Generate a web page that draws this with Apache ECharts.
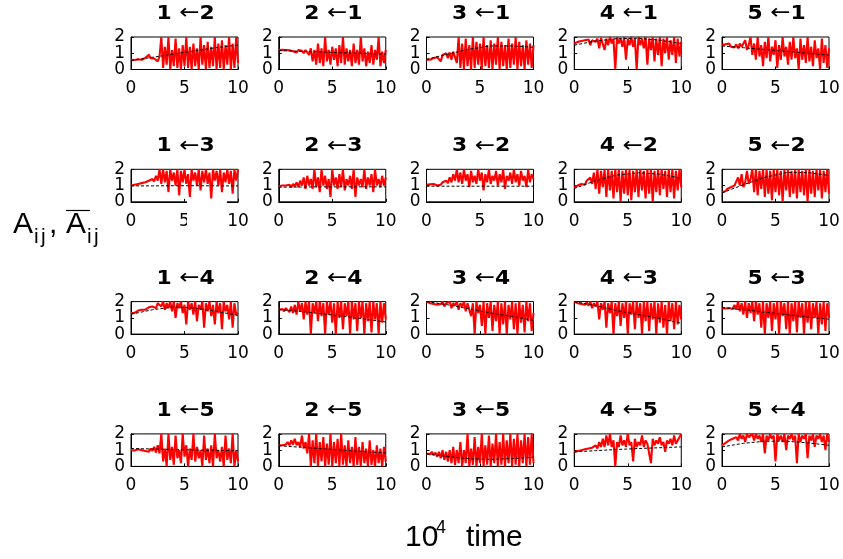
<!DOCTYPE html>
<html><head><meta charset="utf-8">
<script src="https://cdn.jsdelivr.net/npm/echarts@6/dist/echarts.min.js"></script>
<style>html,body{margin:0;padding:0;background:#fff}#c{width:843px;height:559px}</style>
</head><body><div id="c"></div>
<script>
// ---- data ----
const titles = [['1','2'],['2','1'],['3','1'],['4','1'],['5','1'],
                ['1','3'],['2','3'],['3','2'],['4','2'],['5','2'],
                ['1','4'],['2','4'],['3','4'],['4','3'],['5','3'],
                ['1','5'],['2','5'],['3','5'],['4','5'],['5','4']];
const xRange = [0, 10];
const yRange = [0, 2];
const xTickValues = [0, 5, 10];
const yTickValues = [0, 1, 2];
const yOuterLabels = [0, 2];
const yMiddleLabels = [1];
const trendTime = [0, 2, 4, 6, 8, 10];

const red_1_2 = [0.6,0.62,0.58,0.65,0.63,0.7,0.6,0.68,0.72,0.66,0.9,0.7,0.75,0.68,0.78,0.5,0.8,2.0,
 0.1,1.4,0.3,2.0,0.0,1.2,0.2,1.9,0.1,1.3,0.0,1.5,0.2,2.0,0.1,1.4,0.0,1.6,0.2,1.3,
 0.0,2.0,0.3,1.5,0.0,1.7,0.1,1.4,0.2,2.0,0.0,1.6,0.1,1.8,0.0,1.5,0.3,2.0,0.0,1.6,0.1,2.0,0.4];
const red_2_1 = [1.2,1.18,1.22,1.15,1.2,1.1,1.18,1.22,1.12,1.15,1.05,1.2,1.1,1.15,1.0,1.2,1.1,0.9,
 1.3,0.5,1.2,0.3,1.6,0.4,1.3,0.2,2.0,0.5,1.2,0.3,1.4,0.6,1.3,0.2,1.5,0.4,2.0,0.3,
 1.3,0.5,1.2,0.2,1.6,0.4,1.2,0.3,2.0,0.5,1.3,0.2,1.1,0.4,1.5,0.3,1.2,0.6,2.0,0.2,1.1,0.4,1.2];
const red_3_1 = [0.6,0.65,0.6,0.72,0.7,0.8,0.75,0.85,0.5,0.9,0.85,1.0,0.7,1.05,0.6,1.1,1.2,0.4,
 2.0,0.1,1.6,0.0,1.9,0.2,1.5,0.0,2.0,0.1,1.7,0.3,1.6,0.0,2.0,0.2,1.5,0.1,1.8,0.0,
 1.6,0.3,2.0,0.0,1.7,0.2,1.5,0.0,1.9,0.1,1.6,0.3,2.0,0.0,1.7,0.2,1.5,0.0,1.8,0.3,1.6,0.1,1.5];
const red_4_1 = [1.6,1.65,1.7,1.62,1.75,1.7,1.8,1.72,1.85,1.5,1.8,1.9,1.7,1.9,1.3,1.95,1.85,1.2,
 1.9,1.5,2.0,1.6,1.9,0.0,2.0,1.6,1.9,1.4,2.0,0.6,1.9,1.5,2.0,1.4,1.9,0.0,2.0,1.5,
 1.9,1.3,2.0,0.3,1.9,1.2,2.0,0.5,1.9,0.9,2.0,0.2,1.9,1.0,2.0,0.6,1.8,0.9,2.0,0.4,1.9,0.8,1.7];
const red_5_1 = [1.5,1.48,1.55,1.45,1.6,1.4,1.5,1.35,1.55,1.3,1.6,1.4,1.3,1.8,1.2,1.5,2.0,0.9,
 1.6,0.6,2.0,0.8,1.5,0.2,1.7,0.7,2.0,0.5,1.4,0.9,1.8,0.1,1.5,0.6,2.0,0.8,1.4,0.3,
 1.7,0.6,2.0,0.7,1.3,0.0,1.9,0.6,1.5,0.4,2.0,0.5,1.4,0.2,1.8,0.7,1.3,0.0,1.9,0.4,1.5,0.1,1.3];
const red_1_3 = [1.0,1.02,1.05,1.0,1.1,1.05,1.15,1.1,1.2,1.15,1.3,1.2,1.4,1.25,1.6,1.3,2.0,1.1,
 2.0,1.2,1.9,0.6,2.0,1.3,1.8,1.0,2.0,0.4,1.9,1.2,2.0,1.1,1.7,0.3,2.0,1.3,1.8,1.0,
 2.0,0.7,1.9,1.2,2.0,1.1,1.8,0.2,2.0,1.3,1.9,1.0,2.0,0.6,1.8,1.2,2.0,1.1,1.9,0.5,2.0,1.3,2.0];
const red_2_3 = [0.95,0.9,1.0,0.92,1.0,0.95,1.05,0.9,1.1,0.95,1.2,0.9,1.3,1.0,1.5,0.8,1.6,1.0,
 1.4,0.8,2.0,0.9,1.5,0.6,2.0,1.0,1.6,0.8,1.4,0.3,2.0,1.0,1.5,0.8,1.7,0.9,2.0,0.7,
 1.4,1.0,1.6,0.8,2.0,0.3,1.5,1.0,1.4,0.9,2.0,0.8,1.5,1.0,1.7,0.6,2.0,1.0,1.4,0.9,1.6,1.0,1.5];
const red_3_2 = [1.05,1.0,1.08,1.02,1.1,1.05,1.0,1.12,1.05,1.2,1.1,1.3,1.15,1.5,1.2,1.7,1.3,2.0,
 1.2,1.8,1.1,2.0,1.3,1.7,0.9,1.9,1.2,1.6,1.1,2.0,1.3,1.8,0.7,1.7,1.2,2.0,1.1,1.6,
 1.3,1.9,1.0,1.7,1.2,2.0,0.8,1.6,1.3,1.8,1.1,2.0,1.2,1.7,1.0,1.9,1.3,1.6,0.9,2.0,1.2,1.7,1.4];
const red_4_2 = [0.9,0.95,1.0,1.05,1.1,1.15,1.05,1.3,1.2,1.5,1.1,1.8,
 0.8,2.0,0.5,1.9,0.9,2.0,0.3,2.0,0.7,1.9,0.2,2.0,0.6,2.0,0.0,1.9,0.5,2.0,
 0.4,2.0,0.1,1.9,0.6,2.0,0.3,2.0,0.7,1.9,0.2,2.0,0.5,2.0,0.0,1.9,0.6,2.0,0.4,2.0,
 0.8,1.9,0.3,2.0,0.6,2.0,0.2,1.9,0.7,2.0,0.9];
const red_5_2 = [0.6,0.7,0.65,0.8,0.75,0.9,0.85,1.0,0.95,1.5,1.0,1.7,0.9,1.2,1.9,1.1,1.4,2.0,
 0.6,2.0,0.4,1.9,0.8,2.0,0.3,2.0,0.5,1.9,0.1,2.0,0.6,2.0,0.4,1.9,0.0,2.0,0.7,2.0,
 0.3,1.9,0.5,2.0,0.2,2.0,0.6,1.9,0.4,2.0,0.0,2.0,0.5,1.9,0.3,2.0,0.7,2.0,0.2,1.9,0.6,2.0,0.5];
const red_1_4 = [1.3,1.35,1.3,1.4,1.45,1.4,1.5,1.55,1.5,1.6,1.65,1.55,1.7,1.8,1.6,1.9,2.0,1.7,
 2.0,1.5,1.9,1.6,2.0,1.4,2.0,1.0,1.9,1.6,2.0,1.3,1.8,0.6,2.0,1.5,1.9,1.2,2.0,0.8,
 1.8,1.5,2.0,0.4,1.9,1.4,2.0,1.1,1.8,0.6,2.0,1.3,1.9,0.3,2.0,1.4,1.8,0.9,2.0,0.4,1.9,1.2,1.3];
const red_2_4 = [1.5,1.45,1.55,1.4,1.6,1.5,1.35,1.7,1.3,1.8,1.2,2.0,
 1.4,1.9,0.9,2.0,1.2,2.0,0.0,1.9,1.3,2.0,0.8,2.0,1.1,1.9,0.0,2.0,1.2,2.0,
 0.7,1.9,0.0,2.0,1.0,2.0,0.3,1.9,1.1,2.0,0.0,2.0,0.9,1.9,0.2,2.0,1.0,2.0,0.0,1.9,
 0.8,2.0,0.1,2.0,0.9,1.9,0.0,2.0,0.7,1.9,0.9];
const red_3_4 = [2.0,1.95,1.9,2.0,1.85,1.95,1.8,1.9,1.85,2.0,1.7,1.9,1.8,2.0,1.6,1.9,1.75,2.0,1.5,1.9,1.7,2.0,1.4,1.9,
 2.0,1.1,1.9,0.0,2.0,1.3,1.8,0.5,2.0,0.0,1.9,1.0,2.0,0.2,1.8,0.8,2.0,0.0,1.9,0.6,
 2.0,0.0,1.8,0.9,2.0,0.3,1.9,0.0,2.0,0.7,1.8,0.1,2.0,0.8,1.9,0.2,1.3];
const red_4_3 = [2.0,1.95,1.9,2.0,1.85,1.9,1.8,1.95,1.75,2.0,1.6,1.9,1.7,2.0,0.9,1.9,1.5,2.0,
 0.4,1.9,1.3,2.0,0.0,1.9,1.1,2.0,0.5,1.9,1.0,2.0,0.0,1.9,1.2,2.0,0.3,2.0,1.0,1.9,
 0.0,2.0,0.8,2.0,0.2,1.9,0.9,2.0,0.0,1.9,0.7,2.0,0.4,1.8,0.0,2.0,0.8,1.9,0.3,2.0,0.6,1.8,0.9];
const red_5_3 = [1.6,1.62,1.58,1.65,1.6,1.7,1.55,1.8,1.5,2.0,1.4,1.9,
 1.2,2.0,1.0,1.9,1.3,2.0,0.8,2.0,1.2,1.9,0.4,2.0,0.0,1.9,1.0,2.0,0.2,1.9,
 0.9,2.0,0.0,2.0,1.1,1.9,0.3,2.0,0.0,1.9,0.8,2.0,0.1,2.0,1.0,1.9,0.0,2.0,0.7,2.0,
 0.3,1.9,1.0,2.0,0.0,1.9,0.6,2.0,0.2,1.9,1.0];
const red_1_5 = [1.0,1.02,0.98,1.0,1.05,0.97,1.0,1.03,0.95,1.05,0.9,1.1,0.95,1.2,0.85,1.3,0.8,
 2.0,0.3,1.1,0.0,2.0,0.4,1.2,0.1,1.9,0.5,1.0,0.2,2.0,0.6,1.3,0.0,1.1,0.4,2.0,0.3,
 1.2,0.5,1.0,0.0,1.9,0.4,1.1,0.2,1.3,0.0,2.0,0.5,1.0,0.3,1.2,0.0,1.9,0.4,1.1,0.2,2.0,0.0,1.0,0.3];
const red_2_5 = [1.3,1.35,1.3,1.4,1.35,1.5,1.3,1.6,1.35,1.7,1.3,1.5,1.2,1.9,1.1,1.5,0.8,2.0,
 0.0,1.6,0.2,2.0,0.0,1.5,0.3,1.8,0.0,1.4,0.1,2.0,0.0,1.5,0.2,1.7,0.0,2.0,0.1,1.3,
 0.0,1.6,0.2,1.2,0.0,1.8,0.1,1.2,0.0,1.5,0.2,1.1,0.0,1.6,0.1,1.0,0.0,1.3,0.2,1.1,0.0,1.2,0.3];
const red_3_5 = [0.8,0.85,0.75,0.9,0.7,0.85,0.6,0.9,0.5,1.0,0.4,0.9,0.3,1.0,0.2,1.2,0.1,1.0,
 0.2,1.5,0.0,1.0,0.2,2.0,0.0,1.1,0.1,1.8,0.0,1.2,0.2,2.0,0.0,1.3,0.1,1.9,0.0,1.4,
 0.2,2.0,0.0,1.5,0.1,2.0,0.0,1.6,0.2,2.0,0.0,1.7,0.1,2.0,0.0,1.6,0.2,2.0,0.0,1.8,0.1,2.0,0.2];
const red_4_5 = [0.9,0.92,0.95,0.93,1.0,0.98,1.05,1.0,1.1,1.05,1.15,1.1,1.3,1.1,1.5,1.2,1.7,1.2,
 1.9,1.3,2.0,1.2,1.6,0.0,1.5,1.2,1.9,1.3,1.6,1.2,2.0,1.3,1.5,0.3,1.7,1.2,1.5,1.3,
 1.9,1.2,1.6,1.4,1.5,0.2,1.7,1.3,1.6,1.4,1.8,1.3,1.5,0.9,1.6,1.4,1.7,1.3,1.9,1.4,1.6,1.5,2.0];
const red_5_4 = [1.3,1.35,1.45,1.5,1.6,1.55,1.7,1.65,1.8,1.6,2.0,1.7,1.9,1.5,2.0,1.8,1.9,2.0,
 1.6,2.0,1.7,1.9,1.5,2.0,0.8,1.9,1.6,2.0,1.7,1.9,0.3,2.0,1.6,1.9,1.5,2.0,1.0,1.9,
 1.7,2.0,1.6,1.9,0.2,2.0,1.5,1.9,1.7,2.0,0.5,1.9,1.6,2.0,1.2,1.9,1.7,2.0,1.5,1.9,1.0,2.0,1.5];

const trend_1_2 = [0.55,0.75,0.95,1.15,1.35,1.5];
const trend_2_1 = [1.16,1.12,1.08,1.03,0.99,0.95];
const trend_3_1 = [0.63,0.95,1.25,1.45,1.45,1.37];
const trend_4_1 = [1.5,1.75,1.9,1.92,1.8,1.6];
const trend_5_1 = [1.45,1.34,1.23,1.12,1.0,0.89];
const trend_1_3 = [0.98,0.98,0.99,0.99,0.98,0.98];
const trend_2_3 = [0.9,0.91,0.92,0.92,0.92,0.92];
const trend_3_2 = [0.96,0.96,0.96,0.96,0.96,0.96];
const trend_4_2 = [0.82,1.3,1.65,1.78,1.7,1.45];
const trend_5_2 = [0.55,1.05,1.5,1.8,1.8,1.62];
const trend_1_4 = [1.22,1.5,1.67,1.6,1.4,1.15];
const trend_2_4 = [1.5,1.4,1.25,1.1,0.92,0.75];
const trend_3_4 = [2.0,1.8,1.55,1.3,1.08,0.85];
const trend_4_3 = [2.0,1.75,1.45,1.2,0.95,0.67];
const trend_5_3 = [1.63,1.5,1.35,1.2,1.05,0.92];
const trend_1_5 = [1.1,1.07,1.04,1.01,0.99,0.97];
const trend_2_5 = [1.27,1.18,1.09,1.0,0.91,0.83];
const trend_3_5 = [0.77,0.6,0.47,0.43,0.48,0.57];
const trend_4_5 = [0.89,0.97,1.04,1.1,1.15,1.2];
const trend_5_4 = [1.2,1.42,1.55,1.55,1.45,1.3];

const redSeries = [red_1_2,red_2_1,red_3_1,red_4_1,red_5_1,
                   red_1_3,red_2_3,red_3_2,red_4_2,red_5_2,
                   red_1_4,red_2_4,red_3_4,red_4_3,red_5_3,
                   red_1_5,red_2_5,red_3_5,red_4_5,red_5_4];
const trendSeries = [trend_1_2,trend_2_1,trend_3_1,trend_4_1,trend_5_1,
                     trend_1_3,trend_2_3,trend_3_2,trend_4_2,trend_5_2,
                     trend_1_4,trend_2_4,trend_3_4,trend_4_3,trend_5_3,
                     trend_1_5,trend_2_5,trend_3_5,trend_4_5,trend_5_4];

// ---- layout ----
const FONT = "'Liberation Sans', Arial, Helvetica, sans-serif";
const TFONT = "'DejaVu Sans', 'Liberation Sans', sans-serif";
const G = {left0:131, top0:37, dx:147.75, dy:132.3, w:107, h:32.5};
const N = 20;

const grids=[], xAxes=[], yAxes=[], series=[], graphics=[];
function tickLabel(margin, values){
  return {show:true, color:'#000', fontSize:17, fontFamily:TFONT, margin:margin,
          hideOverlap:false, showMinLabel:true, showMaxLabel:true, customValues:values};
}
for (let k=0;k<N;k++){
  const r=Math.floor(k/5), c=k%5;
  const left=G.left0+c*G.dx, top=G.top0+r*G.dy;
  grids.push({left:left, top:top, width:G.w, height:G.h, show:true, borderColor:'#000', borderWidth:1, backgroundColor:'transparent', outerBoundsMode:'none'});
  xAxes.push({gridIndex:k, type:'value', min:xRange[0], max:xRange[1], interval:5,
    axisLine:{show:true, onZero:false, lineStyle:{color:'#000', width:1}},
    axisTick:{show:true, inside:true, length:3, lineStyle:{color:'#000'}, customValues:xTickValues},
    axisLabel:tickLabel(11, xTickValues),
    splitLine:{show:false}});
  yAxes[k] = {gridIndex:k, type:'value', min:yRange[0], max:yRange[1], interval:1, position:'left',
    axisLine:{show:true, onZero:false, lineStyle:{color:'#000', width:1}},
    axisTick:{show:true, inside:true, length:3, lineStyle:{color:'#000'}, customValues:yTickValues},
    axisLabel:tickLabel(6, yOuterLabels),
    splitLine:{show:false}};
  // companion axis on the same grid that carries the middle tick label
  yAxes[N+k] = {gridIndex:k, type:'value', min:yRange[0], max:yRange[1], interval:1, position:'left', offset:0,
    axisLine:{show:false}, axisTick:{show:false},
    axisLabel:tickLabel(6, yMiddleLabels),
    splitLine:{show:false}};
  const rv = redSeries[k];
  series.push({type:'line', xAxisIndex:k, yAxisIndex:k, showSymbol:false, symbol:'none',
    data: rv.map((v,i)=>[xRange[1]*i/(rv.length-1), v]),
    lineStyle:{color:'#ff0000', width:2.1}, z:2, silent:true});
  series.push({type:'line', xAxisIndex:k, yAxisIndex:k, showSymbol:false, symbol:'none',
    data: trendSeries[k].map((v,i)=>[trendTime[i], v]),
    lineStyle:{color:'#000', width:1, type:[3,2]}, z:3, silent:true});
  graphics.push({type:'text', x:left+G.w/2+1, y:top-23, z:10, scaleX:1.15,
    style:{text:'{n|'+titles[k][0]+'} {a|\u2190}{n|'+titles[k][1]+'}', align:'center', verticalAlign:'middle',
      fill:'#000', font:'bold 19px '+TFONT,
      rich:{n:{fontWeight:'bold', fontSize:19, fontFamily:TFONT, fill:'#000'}, a:{fontWeight:'normal', fontSize:21, fontFamily:TFONT, fill:'#000'}}}});
}
// y label  A_ij, Ā_ij
function addText(x, y, t, size){
  graphics.push({type:'text', x:x, y:y, style:{text:t, font:size+'px '+FONT, fill:'#000', verticalAlign:'middle'}});
}
addText(13, 224.5, 'A', 30);
addText(34, 237, 'i', 21);
addText(41, 237, 'j', 21);
addText(49, 224.5, ',', 30);
addText(66, 224.5, 'A', 30);
addText(87, 237, 'i', 21);
addText(94, 237, 'j', 21);
graphics.push({type:'line', shape:{x1:66, y1:210.5, x2:90, y2:210.5}, style:{stroke:'#000', lineWidth:1.2}});
// x label 10^4 time
addText(405, 538, '10', 30);
addText(436, 528, '4', 18);
addText(466, 538, 'time', 30);
// white patch overlapping panel (1<-3) bottom edge
graphics.push({type:'rect', shape:{x:187, y:200.7, width:40, height:24}, style:{fill:'#fff'}, z:100});

const chart = echarts.init(document.getElementById('c'), null, {renderer:'canvas'});
chart.setOption({animation:false, backgroundColor:'#fff', grid:grids, xAxis:xAxes, yAxis:yAxes, series:series, graphic:graphics});
</script></body></html>
